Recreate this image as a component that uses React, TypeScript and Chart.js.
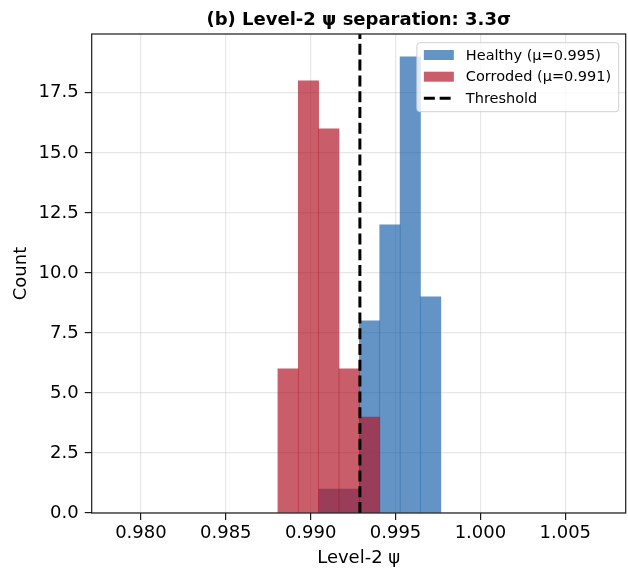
import React, { useEffect, useRef } from 'react';
import { Chart, registerables } from 'chart.js';

Chart.register(...registerables);

// ---- data ----
const healthyBinCenters = [0.99107, 0.99227, 0.99347, 0.99467, 0.99587, 0.99707];
const healthyCounts = [1, 1, 8, 12, 19, 9];
const corrodedBinCenters = [0.98867, 0.98987, 0.99107, 0.99227, 0.99347];
const corrodedCounts = [6, 18, 16, 6, 4];
const thresholdValue = 0.9929;
const xTickValues = [0.98, 0.985, 0.99, 0.995, 1.0, 1.005];
const yTickValues = [0, 2.5, 5, 7.5, 10, 12.5, 15, 17.5];
const xLimits = [0.9771, 1.00856];
const yLimits = [0, 19.95];
const seriesLabels = ['Healthy (μ=0.995)', 'Corroded (μ=0.991)', 'Threshold'];
const chartTitle = '(b) Level-2 ψ separation: 3.3σ';
const xAxisTitle = 'Level-2 ψ';
const yAxisTitle = 'Count';

const FONT = "'DejaVu Sans', 'Liberation Sans', sans-serif";
const HEALTHY_COLOR = 'rgba(33,102,172,0.7)';
const CORRODED_COLOR = 'rgba(178,24,43,0.7)';
const GRID_COLOR = 'rgba(176,176,176,0.3)';
const AXIS_COLOR = '#1a1a1a';

const thresholdPlugin = {
  id: 'thresholdOnTop',
  afterDraw(chart: any) {
    const { ctx, chartArea: ca, scales } = chart;
    const x = scales.x.getPixelForValue(thresholdValue);
    const y0 = scales.y.getPixelForValue(yLimits[0]);
    const y1 = scales.y.getPixelForValue(yLimits[1]);
    ctx.save();
    ctx.beginPath();
    ctx.rect(ca.left, ca.top, ca.right - ca.left, ca.bottom - ca.top);
    ctx.clip();
    ctx.beginPath();
    ctx.setLineDash([11, 4.8]);
    ctx.strokeStyle = '#000';
    ctx.lineWidth = 3;
    ctx.moveTo(x, y0);
    ctx.lineTo(x, y1);
    ctx.stroke();
    ctx.restore();
  },
};

const framePlugin = {
  id: 'frame',
  afterDraw(chart: any) {
    const { ctx, chartArea: ca } = chart;
    ctx.save();
    ctx.strokeStyle = AXIS_COLOR;
    ctx.lineWidth = 1.2;
    ctx.strokeRect(ca.left, ca.top, ca.right - ca.left, ca.bottom - ca.top);
    ctx.restore();
  },
};

const titlePlugin = {
  id: 'axesTitle',
  afterDraw(chart: any) {
    const { ctx, chartArea: ca } = chart;
    ctx.save();
    ctx.font = `bold 18px ${FONT}`;
    ctx.fillStyle = '#000';
    ctx.textAlign = 'center';
    ctx.textBaseline = 'middle';
    ctx.fillText(chartTitle, (ca.left + ca.right) / 2, 20.4);
    ctx.restore();
  },
};

const legendPlugin = {
  id: 'boxLegend',
  afterDraw(chart: any) {
    const { ctx, chartArea: ca } = chart;
    ctx.save();
    ctx.font = `14.5px ${FONT}`;
    const tw = Math.max(...seriesLabels.map((l) => ctx.measureText(l).width));
    const w = 7 + 30 + 12 + tw + 7.5;
    const h = 69;
    const right = ca.right - 7;
    const left = right - w;
    const top = ca.top + 8.7;
    ctx.beginPath();
    if ((ctx as any).roundRect) (ctx as any).roundRect(left, top, w, h, 3);
    else ctx.rect(left, top, w, h);
    ctx.fillStyle = 'rgba(255,255,255,0.8)';
    ctx.fill();
    ctx.strokeStyle = 'rgba(204,204,204,0.9)';
    ctx.lineWidth = 1;
    ctx.stroke();
    const rows = [12.3, 34, 55.6];
    const px = left + 7;
    const colors = [HEALTHY_COLOR, CORRODED_COLOR];
    rows.forEach((dy, i) => {
      const cy = top + dy;
      if (i < 2) {
        ctx.fillStyle = colors[i];
        ctx.fillRect(px, cy - 5, 30, 10);
      } else {
        ctx.beginPath();
        ctx.setLineDash([11, 4.8]);
        ctx.strokeStyle = '#000';
        ctx.lineWidth = 3;
        ctx.moveTo(px, cy);
        ctx.lineTo(px + 30, cy);
        ctx.stroke();
        ctx.setLineDash([]);
      }
      ctx.fillStyle = '#000';
      ctx.textBaseline = 'middle';
      ctx.textAlign = 'left';
      ctx.fillText(seriesLabels[i], px + 42, cy + 1);
    });
    ctx.restore();
  },
};

export default function App() {
  const ref = useRef<HTMLCanvasElement>(null);
  useEffect(() => {
    document.body.style.margin = '0';
    Chart.defaults.font.family = FONT;
    Chart.defaults.color = '#000';
    const chart = new Chart(ref.current as HTMLCanvasElement, {
      type: 'bar',
      data: {
        datasets: [
          {
            label: seriesLabels[1],
            data: corrodedBinCenters.map((x, i) => ({ x, y: corrodedCounts[i] })),
            backgroundColor: CORRODED_COLOR,
            borderWidth: 0,
            order: 2,
          },
          {
            label: seriesLabels[0],
            data: healthyBinCenters.map((x, i) => ({ x, y: healthyCounts[i] })),
            backgroundColor: HEALTHY_COLOR,
            borderWidth: 0,
            order: 3,
          },
        ],
      },
      options: {
        animation: false,
        responsive: false,
        maintainAspectRatio: false,
        layout: { padding: { left: 0, right: 2.3, top: 34, bottom: 0 } },
        datasets: {
          bar: { grouped: false, barPercentage: 1, categoryPercentage: 1 },
        } as any,
        plugins: {
          legend: { display: false },
          tooltip: { enabled: false },
          title: { display: false },
        },
        scales: {
          x: {
            type: 'linear',
            z: 1,
            min: xLimits[0],
            max: xLimits[1],
            offset: false,
            afterBuildTicks: (s: any) => {
              s.ticks = xTickValues.map((v) => ({ value: v }));
            },
            afterFit: (s: any) => {
              s.height = 56;
            },
            grid: {
              offset: false,
              color: GRID_COLOR,
              lineWidth: 1.2,
              tickColor: AXIS_COLOR,
              tickWidth: 1.2,
              tickLength: 7,
            },
            border: { display: false },
            ticks: {
              color: '#000',
              font: { size: 18, family: FONT },
              padding: 3,
              maxRotation: 0,
              autoSkip: false,
              callback: (v: any) => Number(v).toFixed(3),
            },
            title: {
              display: true,
              text: xAxisTitle,
              color: '#000',
              font: { size: 18, family: FONT, lineHeight: 1 },
              padding: { top: 0, bottom: 1.5 },
            },
          },
          y: {
            type: 'linear',
            z: 1,
            min: yLimits[0],
            max: yLimits[1],
            afterBuildTicks: (s: any) => {
              s.ticks = yTickValues.map((v) => ({ value: v }));
            },
            afterFit: (s: any) => {
              s.width = 91.7;
            },
            grid: {
              color: GRID_COLOR,
              lineWidth: 1.2,
              tickColor: AXIS_COLOR,
              tickWidth: 1.2,
              tickLength: 7,
            },
            border: { display: false },
            ticks: {
              color: '#000',
              font: { size: 18, family: FONT },
              padding: 6,
              autoSkip: false,
              callback: (v: any) => Number(v).toFixed(1),
            },
            title: {
              display: true,
              text: yAxisTitle,
              color: '#000',
              font: { size: 18, family: FONT, lineHeight: 1 },
              padding: { top: 12.2, bottom: 0 },
            },
          },
        },
      } as any,
      plugins: [thresholdPlugin, framePlugin, legendPlugin, titlePlugin],
    });
    return () => chart.destroy();
  }, []);
  return (
    <div style={{ width: 628, height: 569 }}>
      <canvas ref={ref} width={628} height={569} style={{ display: 'block' }} />
    </div>
  );
}
